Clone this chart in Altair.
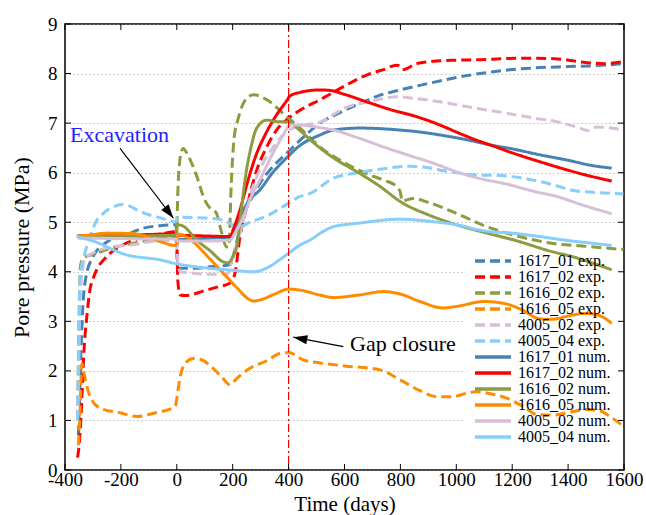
import altair as alt
import pandas as pd

labels = ["1617_01 exp.", "1617_02 exp.", "1616_02 exp.", "1616_05 exp.", "4005_02 exp.", "4005_04 exp.",
          "1617_01 num.", "1617_02 num.", "1616_02 num.", "1616_05 num.", "4005_02 num.", "4005_04 num."]
base_colors = ["#4682b4", "#ff0000", "#8d9c3e", "#ff8c00", "#d8bfd8", "#87cefa"]
colors = base_colors + base_colors
dashes = [[10, 5]] * 6 + [[1, 0]] * 6

x_ticks = [-400, -200, 0, 200, 400, 600, 800, 1000, 1200, 1400, 1600]
y_ticks = [0, 1, 2, 3, 4, 5, 6, 7, 8, 9]

# --- experimental series ---
t_1617_01_exp = [-352, -345, -338, -325, -300, -250, -180, -120, -60, -3, 3, 10, 60, 120, 190, 210, 232, 260, 297, 340, 393, 450, 512, 580, 656, 720, 800, 900, 1000, 1109, 1200, 1300, 1400, 1500, 1598]
p_1617_01_exp = [0.7, 2.0, 3.1, 3.9, 4.3, 4.6, 4.75, 4.88, 4.93, 4.95, 4.2, 4.07, 4.07, 4.1, 4.14, 4.5, 5.04, 5.4, 5.78, 6.1, 6.39, 6.7, 7.0, 7.2, 7.4, 7.55, 7.67, 7.8, 7.92, 8.02, 8.08, 8.12, 8.14, 8.16, 8.2]

t_1617_02_exp = [-355, -348, -340, -334, -320, -311, -300, -287, -260, -239, -200, -156, -80, -12, -2, 4, 12, 30, 100, 150, 190, 208, 226, 250, 286, 320, 357, 400, 453, 512, 600, 679, 740, 787, 800, 808, 858, 906, 1000, 1085, 1228, 1350, 1466, 1530, 1598]
p_1617_02_exp = [0.25, 0.6, 1.4, 2.2, 3.2, 3.63, 3.85, 4.04, 4.25, 4.37, 4.52, 4.64, 4.74, 4.81, 4.82, 3.8, 3.53, 3.52, 3.62, 3.7, 3.77, 3.97, 4.71, 5.3, 6.05, 6.5, 6.86, 7.1, 7.3, 7.47, 7.75, 7.97, 8.08, 8.17, 8.14, 8.08, 8.2, 8.24, 8.27, 8.28, 8.31, 8.3, 8.22, 8.2, 8.24]

t_1616_02_exp = [-355, -350, -345, -335, -300, -239, -150, -60, -2, 5, 12, 23, 40, 70, 100, 119, 140, 160, 178, 186, 195, 205, 220, 250, 275, 320, 393, 441, 512, 600, 679, 740, 787, 800, 806, 846, 900, 1000, 1109, 1200, 1347, 1450, 1598]
p_1616_02_exp = [1.0, 3.0, 4.1, 4.28, 4.35, 4.47, 4.58, 4.68, 4.7, 5.8, 6.3, 6.49, 6.35, 5.95, 5.45, 5.28, 5.2, 4.8, 4.5, 4.5, 5.8, 6.7, 7.1, 7.5, 7.57, 7.48, 7.13, 6.9, 6.52, 6.2, 5.98, 5.85, 5.72, 5.6, 5.43, 5.48, 5.4, 5.18, 4.91, 4.75, 4.57, 4.52, 4.45]

t_1616_05_exp = [-352, -346, -340, -334, -322, -310, -275, -200, -143, -80, -6, 4, 12, 30, 59, 90, 130, 165, 190, 215, 260, 320, 369, 400, 453, 512, 600, 727, 799, 870, 930, 989, 1037, 1073, 1130, 1180, 1240, 1288, 1347, 1410, 1466, 1510, 1550, 1598]
p_1616_05_exp = [0.5, 1.2, 2.15, 2.0, 1.7, 1.48, 1.25, 1.15, 1.08, 1.15, 1.28, 1.6, 1.88, 2.15, 2.25, 2.22, 2.05, 1.85, 1.72, 1.85, 2.05, 2.2, 2.35, 2.37, 2.22, 2.16, 2.1, 2.02, 1.82, 1.6, 1.48, 1.48, 1.55, 1.58, 1.53, 1.45, 1.28, 1.12, 1.11, 1.17, 1.22, 1.2, 1.08, 0.88]

t_4005_02_exp = [-355, -350, -345, -328, -300, -250, -150, -60, -3, 4, 12, 60, 120, 180, 200, 226, 260, 300, 350, 393, 450, 512, 600, 700, 787, 850, 942, 1050, 1180, 1280, 1359, 1442, 1470, 1502, 1598]
p_4005_02_exp = [1.0, 2.5, 3.6, 4.27, 4.38, 4.48, 4.55, 4.63, 4.63, 4.2, 4.0, 3.97, 3.95, 3.95, 4.3, 4.78, 5.5, 6.1, 6.55, 6.83, 6.95, 7.02, 7.3, 7.45, 7.53, 7.5, 7.43, 7.32, 7.2, 7.1, 7.03, 6.9, 6.85, 6.92, 6.86]

t_4005_04_exp = [-355, -350, -347, -338, -328, -311, -290, -263, -230, -197, -170, -143, -100, -60, -4, 3, 80, 140, 178, 205, 226, 262, 320, 399, 441, 477, 560, 650, 740, 834, 900, 942, 1000, 1085, 1121, 1200, 1276, 1350, 1419, 1500, 1598]
p_4005_04_exp = [1.0, 2.5, 3.8, 4.2, 4.4, 4.7, 5.0, 5.18, 5.3, 5.36, 5.33, 5.25, 5.15, 5.09, 5.01, 5.1, 5.09, 5.07, 5.01, 4.93, 4.91, 5.0, 5.12, 5.38, 5.52, 5.58, 5.89, 6.0, 6.08, 6.13, 6.1, 6.05, 6.0, 5.95, 5.95, 5.92, 5.85, 5.75, 5.64, 5.6, 5.57]

# --- numerical series ---
t_1617_01_num = [-355, -200, -60, -3, 5, 60, 120, 190, 205, 230, 260, 297, 340, 393, 441, 512, 560, 656, 720, 799, 870, 942, 1050, 1121, 1200, 1299, 1400, 1480, 1556]
p_1617_01_num = [4.72, 4.72, 4.72, 4.72, 4.65, 4.66, 4.68, 4.7, 4.85, 5.15, 5.45, 5.65, 5.98, 6.3, 6.55, 6.76, 6.86, 6.9, 6.89, 6.86, 6.82, 6.76, 6.65, 6.56, 6.48, 6.36, 6.25, 6.15, 6.09]

t_1617_02_num = [-355, -200, -60, -3, 5, 60, 120, 190, 205, 226, 255, 286, 315, 345, 380, 393, 405, 441, 512, 548, 600, 679, 760, 858, 942, 1000, 1085, 1121, 1200, 1299, 1400, 1480, 1556]
p_1617_02_num = [4.72, 4.74, 4.76, 4.78, 4.74, 4.73, 4.72, 4.71, 4.9, 5.25, 5.85, 6.39, 6.75, 7.06, 7.35, 7.45, 7.55, 7.62, 7.67, 7.66, 7.58, 7.43, 7.28, 7.13, 6.96, 6.82, 6.63, 6.56, 6.4, 6.22, 6.05, 5.93, 5.83]

t_1616_02_num = [-355, -200, -60, -3, 3, 23, 71, 120, 166, 184, 200, 214, 230, 244, 265, 286, 322, 357, 399, 441, 480, 512, 560, 650, 720, 810, 900, 1000, 1109, 1200, 1347, 1419, 1500, 1556]
p_1616_02_num = [4.72, 4.72, 4.73, 4.74, 4.95, 4.92, 4.64, 4.42, 4.2, 4.18, 4.3, 4.5, 5.2, 5.85, 6.5, 6.9, 7.06, 7.03, 7.02, 6.85, 6.65, 6.5, 6.3, 6.0, 5.75, 5.38, 5.15, 4.95, 4.78, 4.65, 4.4, 4.3, 4.15, 4.04]

t_1616_05_num = [-358, -300, -251, -156, -60, -6, 0, 5, 30, 59, 120, 178, 220, 256, 275, 297, 350, 399, 441, 512, 560, 650, 739, 800, 870, 953, 1000, 1100, 1180, 1228, 1300, 1340, 1410, 1460, 1510, 1556]
p_1616_05_num = [4.71, 4.75, 4.78, 4.77, 4.61, 4.53, 4.6, 4.76, 4.72, 4.6, 4.25, 3.9, 3.65, 3.45, 3.41, 3.43, 3.55, 3.65, 3.63, 3.53, 3.48, 3.53, 3.6, 3.55, 3.4, 3.27, 3.3, 3.4, 3.35, 3.25, 3.05, 3.04, 3.12, 3.16, 3.12, 2.96]

t_4005_02_num = [-355, -200, -60, -3, 5, 60, 120, 190, 210, 238, 265, 297, 340, 380, 405, 441, 500, 560, 650, 739, 830, 918, 1000, 1085, 1180, 1280, 1359, 1450, 1556]
p_4005_02_num = [4.68, 4.67, 4.66, 4.66, 4.62, 4.62, 4.62, 4.64, 4.8, 5.11, 5.5, 5.85, 6.35, 6.75, 6.96, 6.96, 6.92, 6.86, 6.7, 6.52, 6.35, 6.19, 6.02, 5.88, 5.77, 5.62, 5.52, 5.35, 5.17]

t_4005_04_num = [-358, -300, -179, -60, 0, 100, 200, 274, 330, 370, 399, 441, 477, 520, 560, 650, 799, 918, 1000, 1085, 1121, 1200, 1299, 1400, 1480, 1556]
p_4005_04_num = [4.71, 4.62, 4.34, 4.24, 4.16, 4.08, 4.03, 4.0, 4.1, 4.25, 4.37, 4.54, 4.64, 4.8, 4.91, 4.98, 5.06, 5.01, 4.95, 4.84, 4.81, 4.78, 4.71, 4.63, 4.58, 4.53]

# --- annotations ---
gap_t = [400]
exc_text_t, exc_text_p = [-382], [6.76]
exc_arrow_t, exc_arrow_p, exc_arrow_t2, exc_arrow_p2 = [-203], [6.49], [-12], [5.08]
gap_text_t, gap_text_p = [620], [2.54]
gap_arrow_t, gap_arrow_p, gap_arrow_t2, gap_arrow_p2 = [596], [2.49], [417], [2.68]

series = [
    ("1617_01 exp.", t_1617_01_exp, p_1617_01_exp),
    ("1617_02 exp.", t_1617_02_exp, p_1617_02_exp),
    ("1616_02 exp.", t_1616_02_exp, p_1616_02_exp),
    ("1616_05 exp.", t_1616_05_exp, p_1616_05_exp),
    ("4005_02 exp.", t_4005_02_exp, p_4005_02_exp),
    ("4005_04 exp.", t_4005_04_exp, p_4005_04_exp),
    ("1617_01 num.", t_1617_01_num, p_1617_01_num),
    ("1617_02 num.", t_1617_02_num, p_1617_02_num),
    ("1616_02 num.", t_1616_02_num, p_1616_02_num),
    ("1616_05 num.", t_1616_05_num, p_1616_05_num),
    ("4005_02 num.", t_4005_02_num, p_4005_02_num),
    ("4005_04 num.", t_4005_04_num, p_4005_04_num),
]
rows = []
for lab, ts, ps in series:
    for i, (t, p) in enumerate(zip(ts, ps)):
        rows.append({"label": lab, "t": t, "p": p, "kind": "exp" if "exp" in lab else "num", "ord": i})
df = pd.DataFrame(rows)

FONT = "Liberation Serif"
W, H = 559, 446

xscale = alt.Scale(domain=[-400, 1600], nice=False, zero=False)
yscale = alt.Scale(domain=[0, 9], nice=False, zero=False)

xaxis = alt.Axis(values=x_ticks, ticks=False, tickSize=0, domain=False, grid=False,
                 labelExpr="toString(datum.value)", labelPadding=0,
                 title="Time (days)", titleBaseline="alphabetic", titleY=40, titleFontSize=21,
                 labelFlush=False)
yaxis = alt.Axis(values=y_ticks, ticks=False, tickSize=0, domain=False, grid=True,
                 gridDash=[1, 3], gridColor="#9a9a9a", gridWidth=1,
                 labelPadding=8, title="Pore pressure (MPa)", titlePadding=14, labelFlush=False)


def X(f):
    return alt.X(f, scale=xscale, axis=xaxis)


def Y(f):
    return alt.Y(f, scale=yscale, axis=yaxis)


legend = alt.Legend(title=None, orient="none", legendX=420, legendY=229,
                    symbolType="M-3,0L3,0", symbolSize=144, symbolStrokeWidth=3.5,
                    labelFont=FONT, labelFontSize=16, labelColor="black", rowPadding=0,
                    padding=0, labelOffset=17, labelLimit=300)

color = alt.Color("label:N", scale=alt.Scale(domain=labels, range=colors), legend=legend)
dash = alt.StrokeDash("label:N", scale=alt.Scale(domain=labels, range=dashes), legend=legend)

bg = alt.Chart(pd.DataFrame({"t": [0]})).mark_rect(color="white").encode(
    x=alt.value(400), x2=alt.value(558), y=alt.value(215), y2=alt.value(445))

base = alt.Chart(df).encode(x=X("t:Q"), y=Y("p:Q"), color=color, strokeDash=dash, order=alt.Order("ord:Q"))
exp_lines = base.transform_filter(alt.datum.kind == "exp").mark_line(strokeWidth=3, interpolate="monotone", strokeCap="butt")
num_lines = base.transform_filter(alt.datum.kind == "num").mark_line(strokeWidth=3, interpolate="monotone", strokeCap="butt")

vline = alt.Chart(pd.DataFrame({"t": gap_t})).mark_rule(color="red", strokeWidth=1.2, strokeDash=[8, 3, 2, 3]).encode(
    x=X("t:Q"))

xt = pd.DataFrame({"t": x_ticks})
yt = pd.DataFrame({"p": y_ticks})
tick_b = alt.Chart(xt).mark_rule(color="black", strokeWidth=1).encode(x=X("t:Q"), y=alt.value(H), y2=alt.value(H - 6))
tick_t = alt.Chart(xt).mark_rule(color="black", strokeWidth=1).encode(x=X("t:Q"), y=alt.value(0), y2=alt.value(6))
tick_l = alt.Chart(yt).mark_rule(color="black", strokeWidth=1).encode(y=Y("p:Q"), x=alt.value(0), x2=alt.value(6))
tick_r = alt.Chart(yt).mark_rule(color="black", strokeWidth=1).encode(y=Y("p:Q"), x=alt.value(W), x2=alt.value(W - 6))

exc_text = alt.Chart(pd.DataFrame({"t": exc_text_t, "p": exc_text_p, "s": ["Excavation"]})).mark_text(
    align="left", baseline="middle", font=FONT, fontSize=22, color="#2222ff").encode(
    x=X("t:Q"), y=Y("p:Q"), text="s:N")
gap_text = alt.Chart(pd.DataFrame({"t": gap_text_t, "p": gap_text_p, "s": ["Gap closure"]})).mark_text(
    align="left", baseline="middle", font=FONT, fontSize=22, color="black").encode(
    x=X("t:Q"), y=Y("p:Q"), text="s:N")

arrows_df = pd.DataFrame({"t": exc_arrow_t + gap_arrow_t, "p": exc_arrow_p + gap_arrow_p,
                          "t2": exc_arrow_t2 + gap_arrow_t2, "p2": exc_arrow_p2 + gap_arrow_p2,
                          "ang": [142.7, 280.6]})
arrow_lines = alt.Chart(arrows_df).mark_rule(color="black", strokeWidth=1.2).encode(
    x=X("t:Q"), y=Y("p:Q"), x2="t2:Q", y2="p2:Q")
head = "M0,0L0.65,2L-0.65,2Z"
arrow_heads = alt.Chart(arrows_df).mark_point(shape=head, filled=True, color="black", size=196, opacity=1).encode(
    x=X("t2:Q"), y=Y("p2:Q"), angle=alt.Angle("ang:Q", scale=None))

chart = alt.layer(bg, exp_lines, num_lines, vline, tick_b, tick_t, tick_l, tick_r,
                  arrow_lines, arrow_heads, exc_text, gap_text).properties(
    width=W, height=H,
    padding={"left": 65, "top": 24, "right": 22, "bottom": 45},
    autosize=alt.AutoSizeParams(type="none"),
    background="white",
).configure_view(stroke="black", strokeWidth=1.5).configure_axis(
    labelFont=FONT, titleFont=FONT, labelFontSize=19, titleFontSize=22,
    labelColor="black", titleColor="black", titleFontWeight="normal")

chart.save("out.html", embed_options={"renderer": "svg", "actions": False})
